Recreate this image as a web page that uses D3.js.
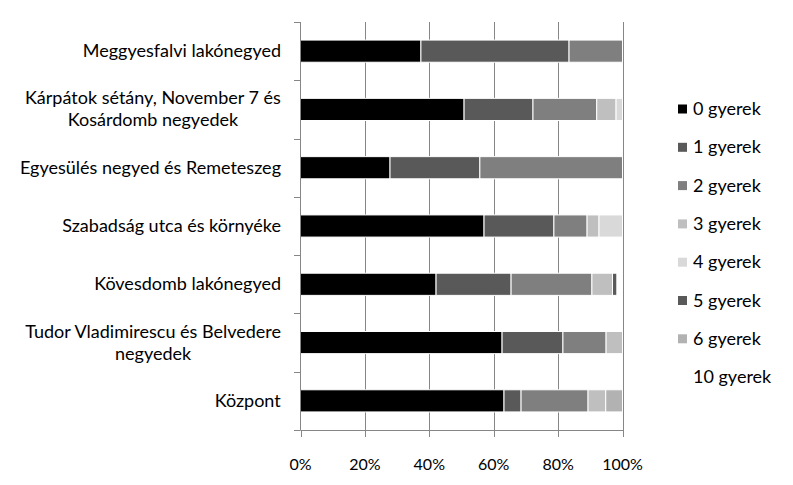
<!DOCTYPE html>
<html>
<head>
<meta charset="utf-8">
<script src="https://cdn.jsdelivr.net/npm/d3@7"></script>
<style>
  body { margin: 0; background: #fff; }
  text { font-family: Lato, "Open Sans", sans-serif; fill: #000; }
</style>
</head>
<body>
<div id="chart"></div>
<script>
// Neighbourhoods, top to bottom
var categories = [
    ["Meggyesfalvi lakónegyed"],
    ["Kárpátok sétány, November 7 és", "Kosárdomb negyedek"],
    ["Egyesülés negyed és Remeteszeg"],
    ["Szabadság utca és környéke"],
    ["Kövesdomb lakónegyed"],
    ["Tudor Vladimirescu és Belvedere", "negyedek"],
    ["Központ"]
];

var seriesNames = ["0 gyerek", "1 gyerek", "2 gyerek", "3 gyerek", "4 gyerek", "5 gyerek", "6 gyerek", "10 gyerek"];
var seriesColors = ["#000000", "#595959", "#7f7f7f", "#bfbfbf", "#d9d9d9", "#595959", "#b2b2b2", "#ffffff"];

// share of households (%) per category
var gyerek0  = [37.4, 50.8, 27.8, 57.0, 42.1, 62.6, 63.2];
var gyerek1  = [46.0, 21.4, 27.9, 21.7, 23.3, 18.9, 5.3];
var gyerek2  = [16.6, 19.8, 44.3, 10.3, 25.1, 13.4, 20.8];
var gyerek3  = [0, 6.0, 0, 3.7, 6.4, 5.1, 5.5];
var gyerek4  = [0, 2.0, 0, 7.3, 0, 0, 0];
var gyerek5  = [0, 0, 0, 0, 1.4, 0, 0];
var gyerek6  = [0, 0, 0, 0, 0, 0, 5.2];
var gyerek10 = [0, 0, 0, 0, 1.7, 0, 0];

var xTicks = [0, 20, 40, 60, 80, 100];

var allSeries = [gyerek0, gyerek1, gyerek2, gyerek3, gyerek4, gyerek5, gyerek6, gyerek10];

// build rows for d3.stack
var rows = categories.map(function (c, i) {
    var r = { cat: i };
    seriesNames.forEach(function (s, j) { r[s] = allSeries[j][i]; });
    return r;
});

var W = 793, H = 485;
var svg = d3.select("#chart").append("svg")
    .attr("width", W)
    .attr("height", H);

var x = d3.scaleLinear().domain([0, 100]).range([300.5, 622.5]);
var y = d3.scaleBand().domain(d3.range(categories.length)).range([22, 430]).paddingInner(0.62).paddingOuter(0.31);

var grid = "#868686";

// vertical gridlines
svg.append("g")
    .selectAll("line")
    .data(xTicks.slice(1))
    .enter().append("line")
    .attr("x1", function (d) { return Math.round(x(d)) + 0.5; })
    .attr("x2", function (d) { return Math.round(x(d)) + 0.5; })
    .attr("y1", 22)
    .attr("y2", 430)
    .attr("stroke", grid);

// stacked bars
var stack = d3.stack().keys(seriesNames);
var layers = stack(rows);

svg.append("g")
    .selectAll("g")
    .data(layers)
    .enter().append("g")
    .attr("fill", function (d, i) { return seriesColors[i]; })
    .selectAll("rect")
    .data(function (d) { return d.filter(function (p) { return p[1] - p[0] > 0; }); })
    .enter().append("rect")
    .attr("x", function (d) { return x(d[0]); })
    .attr("width", function (d) { return x(d[1]) - x(d[0]); })
    .attr("y", function (d) { return y(d.data.cat); })
    .attr("height", y.bandwidth())
    .attr("stroke", "#fff")
    .attr("stroke-width", 1);

// left axis
var yAxis = svg.append("g");
yAxis.append("line")
    .attr("x1", 300.5).attr("x2", 300.5)
    .attr("y1", 22).attr("y2", 430)
    .attr("stroke", grid);
yAxis.selectAll("line.tick")
    .data(d3.range(categories.length + 1))
    .enter().append("line")
    .attr("class", "tick")
    .attr("x1", 294).attr("x2", 300.5)
    .attr("y1", function (d) { return Math.round(22 + d * y.step()) + 0.5; })
    .attr("y2", function (d) { return Math.round(22 + d * y.step()) + 0.5; })
    .attr("stroke", grid);

// category labels
var labels = svg.append("g")
    .selectAll("text")
    .data(categories)
    .enter().append("text")
    .attr("font-size", 18)
    .attr("text-anchor", "middle");

labels.each(function (lines, i) {
    var t = d3.select(this);
    var cy = y(i) + y.bandwidth() / 2;
    lines.forEach(function (ln, k) {
        t.append("tspan")
            .attr("x", 0)
            .attr("y", cy + 6 + (k - (lines.length - 1) / 2) * 22)
            .text(ln);
    });
});
// right-align each label block at x = 281, lines centred within
labels.each(function () {
    var t = d3.select(this);
    var w = this.getBBox().width;
    t.selectAll("tspan").attr("x", 281 - w / 2);
});

// bottom axis
var xAxis = svg.append("g");
xAxis.append("line")
    .attr("x1", 300.5).attr("x2", 623)
    .attr("y1", 430.5).attr("y2", 430.5)
    .attr("stroke", grid);
xAxis.selectAll("line.tick")
    .data(xTicks)
    .enter().append("line")
    .attr("x1", function (d) { return Math.round(x(d)) + 0.5; })
    .attr("x2", function (d) { return Math.round(x(d)) + 0.5; })
    .attr("y1", 430).attr("y2", 437)
    .attr("stroke", grid);
xAxis.selectAll("text")
    .data(xTicks)
    .enter().append("text")
    .attr("x", function (d) { return x(d); })
    .attr("y", 470)
    .attr("font-size", 16)
    .attr("text-anchor", "middle")
    .text(function (d) { return d + "%"; });

// legend
var legend = svg.append("g")
    .selectAll("g")
    .data(seriesNames)
    .enter().append("g")
    .attr("transform", function (d, i) { return "translate(678," + (109 + i * 38.3) + ")"; });
legend.append("rect")
    .attr("x", 0).attr("y", -4.5)
    .attr("width", 9).attr("height", 9)
    .attr("fill", function (d, i) { return seriesColors[i]; });
legend.append("text")
    .attr("x", 15)
    .attr("y", 6)
    .attr("font-size", 18)
    .text(function (d) { return d; });
</script>
</body>
</html>
